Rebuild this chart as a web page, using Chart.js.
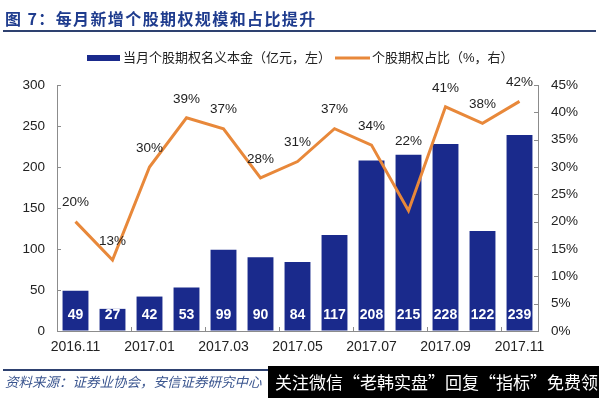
<!DOCTYPE html>
<html>
<head>
<meta charset="utf-8">
<script src="https://cdn.jsdelivr.net/npm/chart.js@4"></script>
<style>
  html, body { margin:0; padding:0; background:#fff; }
  #wrap { position:relative; width:599px; height:398px; overflow:hidden; background:#fff; }
  #c { position:absolute; left:0; top:0; }
  .title { position:absolute; left:5px; top:7px; font-family:"Noto Sans CJK SC", sans-serif; font-weight:bold; font-size:16px; letter-spacing:1.4px; color:#1f3c8e; white-space:nowrap; line-height:22px; }
  .rule1 { position:absolute; left:3px; top:30px; width:593px; height:2px; background:#2e4170; }
  .rule2 { position:absolute; left:3px; top:369px; width:266px; height:1.5px; background:#2e4170; }
  .source { position:absolute; left:5px; top:372px; font-family:"Noto Sans CJK SC", sans-serif; font-style:italic; font-size:13.5px; color:#3a558f; white-space:nowrap; line-height:18px; }
  .wm { position:absolute; left:268px; top:366px; width:331px; height:32px; background:#000; color:#fff; font-family:"Noto Sans CJK SC", sans-serif; font-size:17px; line-height:32px; white-space:nowrap; padding-left:7px; box-sizing:border-box; }
</style>
</head>
<body>
<div id="wrap">
  <canvas id="c" width="599" height="398"></canvas>
  <div class="title">图 7：每月新增个股期权规模和占比提升</div>
  <div class="rule1"></div>
  <div class="rule2"></div>
  <div class="source">资料来源：证券业协会，安信证券研究中心</div>
  <div class="wm">关注微信“老韩实盘”回复“指标”免费领</div>
</div>
<script>
const categories = ['2016.11','2016.12','2017.01','2017.02','2017.03','2017.04','2017.05','2017.06','2017.07','2017.08','2017.09','2017.10','2017.11'];
const notional = [49, 27, 42, 53, 99, 90, 84, 117, 208, 215, 228, 122, 239];
const share = [20, 13, 30, 39, 37, 28, 31, 37, 34, 22, 41, 38, 42];
const barName = '当月个股期权名义本金（亿元，左）';
const lineName = '个股期权占比（%，右）';

const FONT = '"Liberation Sans", "Noto Sans CJK SC", sans-serif';
const BAR_COLOR = '#1a2a8c';
const LINE_COLOR = '#e8883a';
const AXIS_COLOR = '#8c8c8c';

const decor = {
  id: 'decor',
  afterDatasetsDraw(chart) {
    const ctx = chart.ctx;
    const area = chart.chartArea;
    const xs = chart.scales.x, y = chart.scales.y, y1 = chart.scales.y1;
    ctx.save();
    ctx.strokeStyle = AXIS_COLOR;
    ctx.lineWidth = 1;
    ctx.beginPath();
    y.ticks.forEach(t => {
      const py = Math.round(y.getPixelForValue(t.value)) + 0.5;
      ctx.moveTo(area.left, py); ctx.lineTo(area.left + 4, py);
    });
    y1.ticks.forEach(t => {
      const py = Math.round(y1.getPixelForValue(t.value)) + 0.5;
      ctx.moveTo(area.right - 4, py); ctx.lineTo(area.right, py);
    });
    const cw = (area.right - area.left) / categories.length;
    for (let i = 2; i < categories.length; i += 2) {
      const px = Math.round(xs.getPixelForValue(i) - cw / 2) + 0.5;
      ctx.moveTo(px, area.bottom); ctx.lineTo(px, area.bottom - 4);
    }
    ctx.stroke();

    const barMeta = chart.getDatasetMeta(0);
    ctx.font = 'bold 14px ' + FONT;
    ctx.fillStyle = '#ffffff';
    ctx.textAlign = 'center';
    ctx.textBaseline = 'middle';
    barMeta.data.forEach((b, i) => {
      ctx.fillText(String(notional[i]), b.x, area.bottom - 16);
    });

    const lineMeta = chart.getDatasetMeta(1);
    ctx.font = '13.5px ' + FONT;
    ctx.fillStyle = '#222222';
    lineMeta.data.forEach((p, i) => {
      const barTop = barMeta.data[i].y;
      const ly = Math.min(p.y - 19, barTop - 13);
      ctx.fillText(share[i] + '%', p.x, ly);
    });
    ctx.restore();
  },
  afterDraw(chart) {
    const ctx = chart.ctx;
    ctx.save();
    const cy = 58;
    ctx.fillStyle = BAR_COLOR;
    ctx.fillRect(87, cy - 3, 33, 6);
    ctx.font = '13px ' + FONT;
    ctx.fillStyle = '#222222';
    ctx.textAlign = 'left';
    ctx.textBaseline = 'middle';
    ctx.fillText(barName, 123, cy);
    ctx.strokeStyle = LINE_COLOR;
    ctx.lineWidth = 3;
    ctx.beginPath();
    ctx.moveTo(335, cy); ctx.lineTo(370, cy);
    ctx.stroke();
    ctx.fillText(lineName, 372, cy);
    ctx.restore();
  }
};

new Chart(document.getElementById('c'), {
  type: 'bar',
  data: {
    labels: categories,
    datasets: [
      {
        type: 'bar',
        label: barName,
        data: notional,
        backgroundColor: BAR_COLOR,
        borderWidth: 0,
        barPercentage: 0.7,
        categoryPercentage: 1.0,
        yAxisID: 'y',
        order: 2
      },
      {
        type: 'line',
        label: lineName,
        data: share,
        borderColor: LINE_COLOR,
        backgroundColor: LINE_COLOR,
        borderWidth: 3,
        pointRadius: 0,
        tension: 0,
        yAxisID: 'y1',
        order: 1
      }
    ]
  },
  options: {
    responsive: false,
    animation: false,
    events: [],
    layout: { padding: { top: 85, left: 0, right: 0, bottom: 0 } },
    plugins: { legend: { display: false }, title: { display: false }, tooltip: { enabled: false } },
    scales: {
      x: {
        offset: true,
        grid: { display: true, drawOnChartArea: false, drawTicks: false },
        border: { display: true, color: AXIS_COLOR, width: 1 },
        ticks: {
          autoSkip: false, maxRotation: 0, minRotation: 0, padding: 8,
          color: '#222', font: { family: FONT, size: 14 },
          callback: (v, i) => (i % 2 === 0 ? categories[i] : '')
        },
        afterFit: s => { s.height = 67; }
      },
      y: {
        position: 'left',
        min: 0, max: 300,
        grid: { display: true, drawOnChartArea: false, drawTicks: false },
        border: { display: true, color: AXIS_COLOR, width: 1 },
        ticks: { stepSize: 50, padding: 12, color: '#222', font: { family: FONT, size: 13.5 } },
        afterFit: s => { s.width = 57; }
      },
      y1: {
        position: 'right',
        min: 0, max: 45,
        grid: { display: true, drawOnChartArea: false, drawTicks: false },
        border: { display: true, color: AXIS_COLOR, width: 1 },
        ticks: { stepSize: 5, padding: 13, color: '#222', font: { family: FONT, size: 13.5 }, callback: v => v + '%' },
        afterFit: s => { s.width = 61; }
      }
    }
  },
  plugins: [decor]
});
</script>
</body>
</html>
